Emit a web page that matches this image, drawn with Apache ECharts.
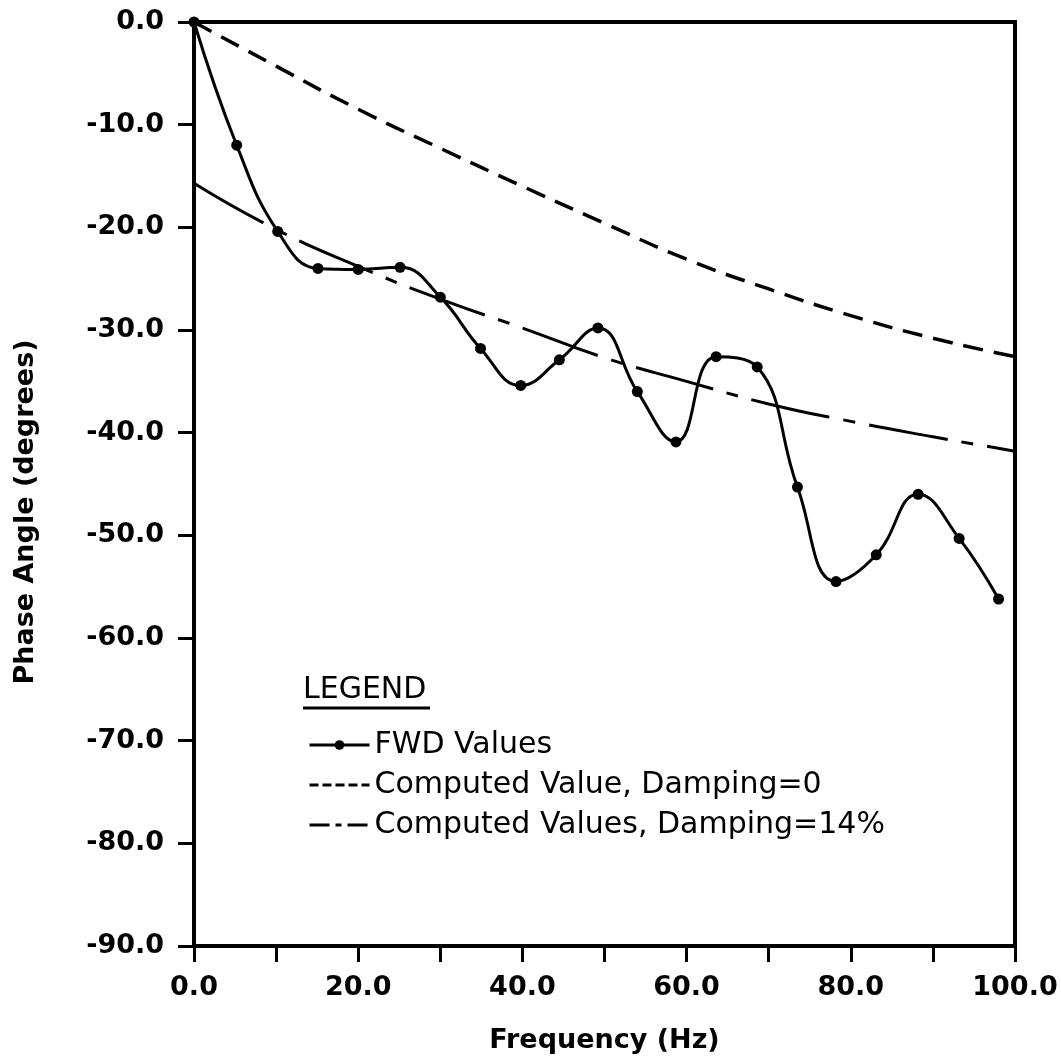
<!DOCTYPE html>
<html>
<head>
<meta charset="utf-8">
<script src="https://cdn.jsdelivr.net/npm/echarts@6/dist/echarts.min.js"></script>
<style>
  html, body { margin: 0; padding: 0; background: #fff; }
  #chart { width: 1061px; height: 1063px; }
</style>
</head>
<body>
<div id="chart"></div>
<script>
// FWD measured phase angles (Hz, degrees)
const fwdFreq = [0, 5.2, 10.2, 15.1, 20.0, 25.1, 30.0, 34.9, 39.8, 44.5, 49.2, 54.0, 58.7, 63.6, 68.6, 73.5, 78.2, 83.1, 88.2, 93.2, 98.0];
const fwdPhase = [0, -12.0, -20.4, -24.0, -24.1, -23.9, -26.8, -31.8, -35.4, -32.9, -29.8, -36.0, -40.9, -32.6, -33.6, -45.3, -54.5, -51.9, -46.0, -50.3, -56.2];

// computed curves
const calcFreq = [0, 10, 20, 30, 40, 50, 60, 70, 80, 90, 100];
const damp0Phase = [0, -4.3, -8.5, -12.3, -16.0, -19.6, -23.1, -26.0, -28.6, -30.8, -32.6];
const damp14Phase = [-15.7, -20.2, -23.8, -27.0, -29.8, -32.7, -35.0, -37.2, -38.9, -40.4, -41.8];

const xTicks = { min: 0, max: 100, step: 10, labelStep: 20 };
const yTicks = { min: -90, max: 0, step: 10 };

const seriesNames = ['FWD Values', 'Computed Value, Damping=0', 'Computed Values, Damping=14%'];

const toPairs = (xs, ys) => xs.map((x, i) => [x, ys[i]]);

const chart = echarts.init(document.getElementById('chart'));

const axisFont = { fontFamily: 'DejaVu Sans', fontWeight: 'bold', fontSize: 27, color: '#000' };

const option = {
    animation: false,
    backgroundColor: '#fff',
    grid: {
        left: 194, right: 46, top: 22, bottom: 117,
        show: true, borderColor: '#000', borderWidth: 4
    },
    legend: {
        orient: 'vertical',
        left: 303,
        top: 725,
        itemWidth: 60,
        itemHeight: 12,
        itemGap: 10,
        textStyle: { fontFamily: 'DejaVu Sans', fontSize: 30, color: '#000' },
        data: [
            { name: seriesNames[0], lineStyle: { width: 3, type: 'solid' } },
            { name: seriesNames[1], itemStyle: { opacity: 0 }, lineStyle: { width: 3, opacity: 1, type: [9, 4] } },
            { name: seriesNames[2], itemStyle: { opacity: 0 }, lineStyle: { width: 3, opacity: 1, type: [20, 6, 6, 6] } }
        ]
    },
    graphic: [
        {
            type: 'text', left: 303, top: 675,
            style: { text: 'LEGEND', font: '30px "DejaVu Sans"', fill: '#000' }
        },
        {
            type: 'line', shape: { x1: 303, y1: 708, x2: 430, y2: 708 },
            style: { stroke: '#000', lineWidth: 3 }
        }
    ],
    xAxis: {
        type: 'value',
        min: xTicks.min, max: xTicks.max, interval: xTicks.step,
        name: 'Frequency (Hz)',
        nameLocation: 'middle',
        nameGap: 81,
        nameTextStyle: axisFont,
        axisLine: { onZero: false, lineStyle: { color: '#000', width: 4 } },
        axisTick: { length: 16, lineStyle: { color: '#000', width: 3 } },
        axisLabel: Object.assign({}, axisFont, {
            margin: 28,
            formatter: v => (v % xTicks.labelStep === 0 ? v.toFixed(1) : '')
        }),
        splitLine: { show: false }
    },
    yAxis: {
        type: 'value',
        min: yTicks.min, max: yTicks.max, interval: yTicks.step,
        name: 'Phase Angle (degrees)',
        nameLocation: 'middle',
        nameGap: 155,
        nameTextStyle: Object.assign({}, axisFont, { padding: [0, 56, 0, 0] }),
        axisLine: { onZero: false, lineStyle: { color: '#000', width: 4 } },
        axisTick: { length: 16, lineStyle: { color: '#000', width: 3 } },
        axisLabel: Object.assign({}, axisFont, {
            margin: 30,
            formatter: v => v.toFixed(1)
        }),
        splitLine: { show: false }
    },
    series: [
        {
            name: seriesNames[0],
            type: 'line',
            smooth: 0.45,
            data: toPairs(fwdFreq, fwdPhase),
            symbol: 'circle',
            symbolSize: 11,
            itemStyle: { color: '#000' },
            lineStyle: { color: '#000', width: 3 },
            z: 5
        },
        {
            name: seriesNames[1],
            type: 'line',
            smooth: true,
            data: toPairs(calcFreq, damp0Phase),
            symbol: 'none',
            itemStyle: { color: '#000' },
            lineStyle: { color: '#000', width: 3.5, type: [20, 11] }
        },
        {
            name: seriesNames[2],
            type: 'line',
            smooth: true,
            data: toPairs(calcFreq, damp14Phase),
            symbol: 'none',
            itemStyle: { color: '#000' },
            lineStyle: { color: '#000', width: 3, type: [80, 14, 12, 14] }
        }
    ]
};

chart.setOption(option);
window.addEventListener('resize', () => chart.resize());
</script>
</body>
</html>
